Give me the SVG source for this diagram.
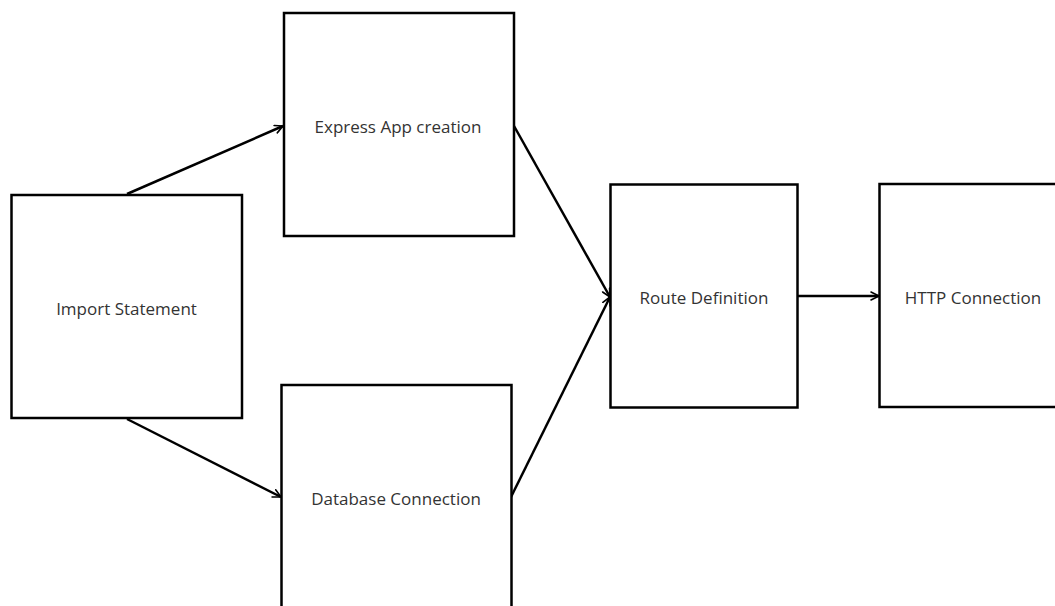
<svg xmlns="http://www.w3.org/2000/svg" width="1055" height="606" viewBox="0 0 1055 606">
<style>
.box{fill:#fff;stroke:#000;stroke-width:2.5}
.lbl{font-family:"Open Sans","Liberation Sans",sans-serif;font-size:17px;fill:#333;text-anchor:middle;dominant-baseline:central}
.edge{fill:none;stroke:#000;stroke-width:2.5}
</style>
<defs>
<marker id="arr" viewBox="0 0 10 10" refX="9" refY="5" markerWidth="4" markerHeight="4" orient="auto" markerUnits="strokeWidth">
<path d="M1,1 L9,5 L1,9" fill="none" stroke="#000" stroke-width="1.6" stroke-linecap="round" stroke-linejoin="round"/>
</marker>
</defs>
<rect width="1055" height="606" fill="#fff"/>
<g id="connectors">
<line class="edge" x1="127" y1="194" x2="283" y2="126" marker-end="url(#arr)"/>
<line class="edge" x1="127" y1="419" x2="281" y2="497" marker-end="url(#arr)"/>
<line class="edge" x1="514" y1="126" x2="610" y2="297" marker-end="url(#arr)"/>
<line class="edge" x1="511" y1="497" x2="610" y2="297" marker-end="url(#arr)"/>
<line class="edge" x1="798" y1="296" x2="879" y2="296" marker-end="url(#arr)"/>
</g>
<g id="import"><rect class="box" x="11.5" y="195" width="230.5" height="223"/><text class="lbl" x="126.5" y="308">Import Statement</text></g>
<g id="express"><rect class="box" x="284" y="13" width="230" height="223"/><text class="lbl" x="398" y="126">Express App creation</text></g>
<g id="database"><rect class="box" x="281.5" y="385" width="230" height="240"/><text class="lbl" x="396" y="498">Database Connection</text></g>
<g id="route"><rect class="box" x="610.5" y="184.5" width="187" height="223"/><text class="lbl" x="704" y="297">Route Definition</text></g>
<g id="http"><rect class="box" x="879.5" y="184" width="200" height="223"/><text class="lbl" x="973" y="297">HTTP Connection</text></g>
</svg>
